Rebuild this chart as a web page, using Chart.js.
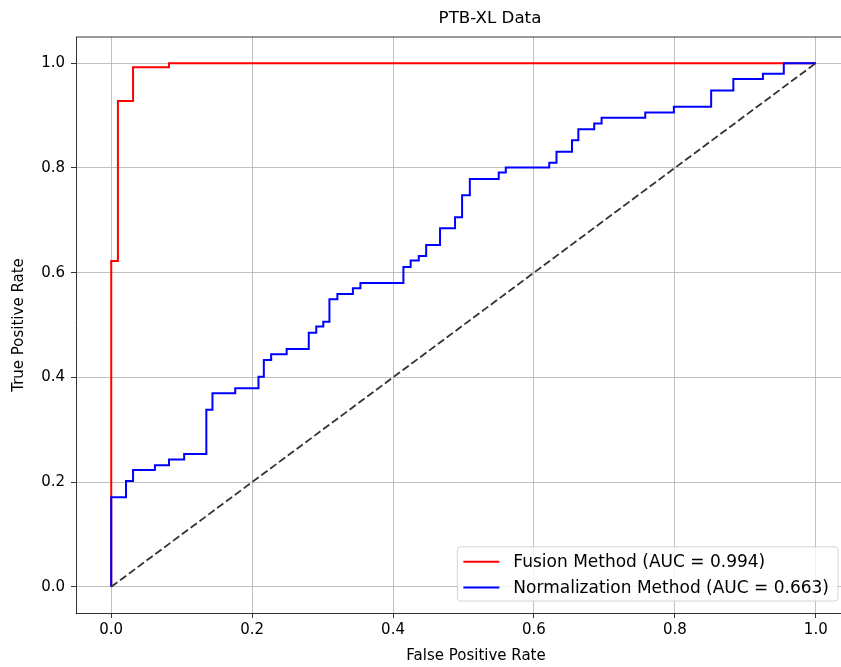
<!DOCTYPE html>
<html>
<head>
<meta charset="utf-8">
<script src="https://cdn.jsdelivr.net/npm/chart.js@4.4.1/dist/chart.umd.min.js"></script>
<style>
  html, body { margin: 0; padding: 0; background: #fff; overflow: hidden; }
  #wrap { width: 856px; height: 667px; }
</style>
</head>
<body>
<div id="wrap"><canvas id="roc-chart" width="856" height="667"></canvas></div>
<script>
// ROC corner points (fpr, tpr)
const fusionFpr = [0, 0, 0.0095, 0.031, 0.082, 1.0];
const fusionTpr = [0, 0.622, 0.928, 0.992, 1.0, 1.0];

const normFpr = [0, 0, 0.021, 0.031, 0.062, 0.082, 0.1035, 0.135, 0.1437, 0.176, 0.209,
  0.2166, 0.227, 0.249, 0.2804, 0.291, 0.301, 0.3097, 0.321, 0.343, 0.3537, 0.4147,
  0.425, 0.4365, 0.447, 0.4667, 0.488, 0.498, 0.509, 0.550, 0.560, 0.6217, 0.632,
  0.654, 0.663, 0.6855, 0.696, 0.758, 0.7986, 0.8515, 0.883, 0.925, 0.9546, 1.0];
const normTpr = [0, 0.171, 0.202, 0.223, 0.232, 0.243, 0.2535, 0.338, 0.3695, 0.379, 0.401,
  0.433, 0.444, 0.454, 0.485, 0.497, 0.506, 0.549, 0.559, 0.570, 0.580, 0.611,
  0.623, 0.632, 0.653, 0.685, 0.706, 0.748, 0.779, 0.791, 0.801, 0.810, 0.831,
  0.853, 0.874, 0.885, 0.896, 0.906, 0.917, 0.948, 0.970, 0.980, 1.0, 1.0];

// chance line
const chanceX = [0, 1];
const chanceY = [0, 1];

const tickValues = [0, 0.2, 0.4, 0.6, 0.8, 1.0];
const seriesLabels = ['Fusion Method (AUC = 0.994)', 'Normalization Method (AUC = 0.663)'];

const FONT = '"DejaVu Sans", sans-serif';
const toPoints = (xs, ys) => xs.map((x, i) => ({ x: x, y: ys[i] }));

// top spine, title and x label
const frame = {
  id: 'frame',
  afterDraw(chart) {
    const { ctx, chartArea } = chart;
    ctx.save();
    ctx.strokeStyle = '#000';
    ctx.lineWidth = 0.8;
    ctx.beginPath();
    ctx.moveTo(chartArea.left, chartArea.top);
    ctx.lineTo(chartArea.right, chartArea.top);
    ctx.stroke();
    ctx.fillStyle = '#000';
    ctx.textAlign = 'center';
    ctx.textBaseline = 'middle';
    ctx.font = '16.7px ' + FONT;
    ctx.fillText('PTB-XL Data', 490, 18.5);
    ctx.font = '15px ' + FONT;
    ctx.fillText('False Positive Rate', 476, 656);
    ctx.restore();
  }
};

// matplotlib-like legend, lower right inside the axes
const legendBox = {
  id: 'legendBox',
  afterDraw(chart) {
    const { ctx, chartArea } = chart;
    const items = chart.data.datasets.filter(d => d.label);
    ctx.save();
    ctx.font = '17px ' + FONT;
    const textW = Math.max(...items.map(d => ctx.measureText(d.label).width));
    const rowH = 25.6;
    const w = 6 + 36 + 14 + textW + 9;
    const h = items.length * rowH + 3;
    const right = chartArea.right - 13;
    const bottom = chartArea.bottom - 12;
    const left = right - w;
    const top = bottom - h;
    ctx.beginPath();
    ctx.roundRect(left, top, w, h, 3);
    ctx.fillStyle = 'rgba(255,255,255,0.8)';
    ctx.fill();
    ctx.strokeStyle = 'rgba(204,204,204,0.8)';
    ctx.lineWidth = 1;
    ctx.stroke();
    items.forEach((d, i) => {
      const y = top + 15 + i * rowH;
      ctx.strokeStyle = d.borderColor;
      ctx.lineWidth = 2;
      ctx.beginPath();
      ctx.moveTo(left + 6, y);
      ctx.lineTo(left + 42, y);
      ctx.stroke();
      ctx.fillStyle = '#000';
      ctx.textBaseline = 'middle';
      ctx.fillText(d.label, left + 56, y + 1);
    });
    ctx.restore();
  }
};

const roc = document.getElementById('roc-chart');

new Chart(roc, {
  type: 'line',
  data: {
    datasets: [
      {
        label: seriesLabels[0],
        data: toPoints(fusionFpr, fusionTpr),
        borderColor: '#ff0000',
        borderWidth: 2,
        stepped: 'before',
        pointRadius: 0,
        order: 2
      },
      {
        label: seriesLabels[1],
        data: toPoints(normFpr, normTpr),
        borderColor: '#0000ff',
        borderWidth: 2,
        stepped: 'before',
        pointRadius: 0,
        order: 1
      },
      {
        label: '',
        data: toPoints(chanceX, chanceY),
        borderColor: '#333333',
        borderWidth: 1.8,
        borderDash: [7.7, 3.3],
        pointRadius: 0,
        order: 0
      }
    ]
  },
  options: {
    responsive: false,
    animation: false,
    layout: { padding: { top: 37, left: 0, right: 5, bottom: 0 } },
    plugins: {
      legend: { display: false },
      tooltip: { enabled: false },
      title: { display: false }
    },
    scales: {
      x: {
        type: 'linear',
        min: -0.05,
        max: 1.05,
        afterBuildTicks: s => { s.ticks = tickValues.map(v => ({ value: v })); },
        afterFit: s => { s.height = 54; },
        grid: { color: '#b0b0b0', lineWidth: 0.8, tickColor: '#000', tickLength: 5, tickWidth: 0.8 },
        border: { color: '#000', width: 0.8 },
        ticks: {
          color: '#000',
          padding: 3,
          maxRotation: 0,
          font: { family: FONT, size: 15 },
          callback: v => v.toFixed(1)
        }
      },
      y: {
        min: -0.05,
        max: 1.05,
        afterBuildTicks: s => { s.ticks = tickValues.map(v => ({ value: v })); },
        afterFit: s => { s.width = 76; },
        grid: { color: '#b0b0b0', lineWidth: 0.8, tickColor: '#000', tickLength: 5, tickWidth: 0.8 },
        border: { color: '#000', width: 0.8 },
        ticks: {
          color: '#000',
          padding: 6,
          font: { family: FONT, size: 15 },
          callback: v => v.toFixed(1)
        },
        title: {
          display: true,
          text: 'True Positive Rate',
          color: '#000',
          font: { family: FONT, size: 15 },
          padding: { top: 10, bottom: 0 }
        }
      }
    }
  },
  plugins: [frame, legendBox]
});
</script>
</body>
</html>
